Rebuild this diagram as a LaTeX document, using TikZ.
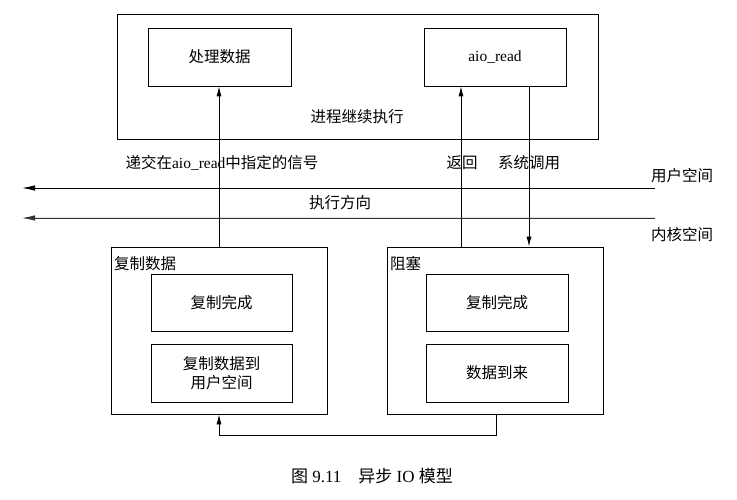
\documentclass[tikz,border=0pt]{standalone}
\usepackage{fontspec}
\setmainfont{Liberation Serif}
\newfontfamily\cjk{Noto Sans CJK SC}
\usetikzlibrary{arrows.meta}
\tikzset{
  box/.style={draw, line width=0.8pt, inner sep=0pt},
  arr/.style={line width=0.8pt, -{Latex[length=10pt,width=5pt]}},
  harr/.style={line width=0.9pt, -{Latex[length=13pt,width=5.5pt]}},
  lbl/.style={font=\fontsize{15.5}{18}\selectfont, inner sep=1pt},
}
\begin{document}
\begin{tikzpicture}[x=1pt,y=-1pt]
\useasboundingbox (0,0) rectangle (737,500);
% outer boxes
\node[box, minimum width=481pt, minimum height=125pt] (top) at (357.5,76.5) {};
\node[box, minimum width=216pt, minimum height=167pt] (lbox) at (219,330.5) {};
\node[box, minimum width=216pt, minimum height=167pt] (rbox) at (495,330.5) {};
% inner boxes
\node[box, lbl, minimum width=143pt, minimum height=58pt] (proc) at (219.5,57) {\cjk 处理数据};
\node[box, lbl, minimum width=142pt, minimum height=58pt] (aio) at (495,57) {aio\_read};
\node[box, lbl, minimum width=141pt, minimum height=57pt] (l1) at (221.5,302.5) {\cjk 复制完成};
\node[box, lbl, minimum width=141pt, minimum height=58pt, align=center] (l2) at (221.5,373) {\cjk 复制数据到\\[1pt]\cjk 用户空间};
\node[box, lbl, minimum width=142pt, minimum height=57pt] (r1) at (497,302.5) {\cjk 复制完成};
\node[box, lbl, minimum width=142pt, minimum height=58pt] (r2) at (497,373) {\cjk 数据到来};
% labels
\node[lbl] (cont) at (357,117) {\cjk 进程继续执行};
\node[lbl, anchor=west] (lcap) at (113,264) {\cjk 复制数据};
\node[lbl, anchor=west] (rcap) at (389,264) {\cjk 阻塞};
\node[lbl] (sig) at (222,163) {{\cjk 递交在}aio\_read{\cjk 中指定的信号}};
\node[lbl] (ret) at (462,163) {\cjk 返回};
\node[lbl] (call) at (529,163) {\cjk 系统调用};
\node[lbl] (user) at (682,176) {\cjk 用户空间};
\node[lbl] (dir) at (340,203) {\cjk 执行方向};
\node[lbl] (kern) at (682,235) {\cjk 内核空间};
\node[font=\fontsize{17}{19}\selectfont] (capt) at (372,476) {{\cjk 图}~9.11\hspace{1em}{\cjk 异步}~IO~{\cjk 模型}};
% coordinates
\coordinate (retx) at (461,0);
\coordinate (callx) at (529,0);
\coordinate (botx) at (496,0);
\coordinate (u1) at (655,188);
\coordinate (u2) at (22,188);
\coordinate (k1) at (655,218);
\coordinate (k2) at (22,218);
% connectors
\draw[arr] (lbox.north) -- (lbox.north |- proc.south);
\draw[arr] (rbox.north -| retx) -- (aio.south -| retx);
\draw[arr] (aio.south -| callx) -- (rbox.north -| callx);
\draw[arr] (rbox.south -| botx) -- ++(0,21) -| (lbox.south);
\draw[harr] (u1) -- (u2);
\draw[harr, draw=black!80, fill=black!80] (k1) -- (k2);
\end{tikzpicture}
\end{document}
